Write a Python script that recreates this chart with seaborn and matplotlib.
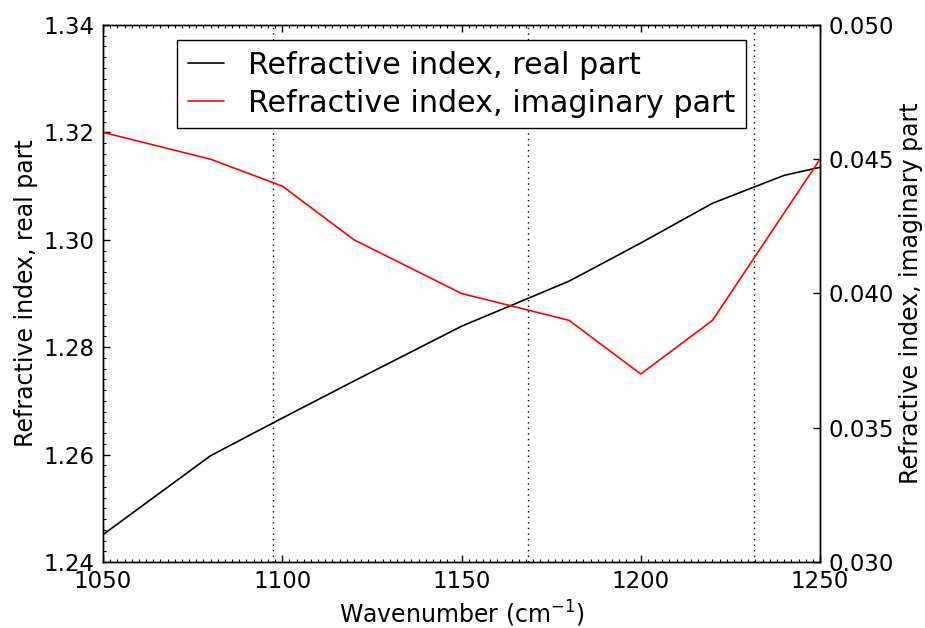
import numpy as np
import matplotlib
matplotlib.use("Agg")
import matplotlib.pyplot as plt
import seaborn as sns
from matplotlib.ticker import MultipleLocator

# data
wavenumber = [1050, 1080, 1100, 1120, 1150, 1180, 1200, 1220, 1240, 1250]
n_real = [1.2451, 1.2598, 1.2668, 1.2737, 1.2839, 1.2923, 1.2994, 1.3068, 1.3120, 1.3135]

wn_imag = [1050, 1080, 1100, 1120, 1150, 1180, 1200, 1220, 1250]
n_imag = [0.0460, 0.0450, 0.0440, 0.0420, 0.0400, 0.0390, 0.0370, 0.0390, 0.0450]

markers = [1097.3, 1168.5, 1231.5]

sns.set_style("ticks")
plt.rcParams['font.family'] = ['DejaVu Sans']
plt.rcParams['mathtext.fontset'] = 'dejavusans'
for key in ['text.color', 'axes.labelcolor', 'xtick.color', 'ytick.color', 'axes.edgecolor']:
    plt.rcParams[key] = 'k'

fig = plt.figure(figsize=(9.25, 6.28), dpi=100)
ax = fig.add_axes([0.1114, 0.1051, 0.7751, 0.8551])
ax2 = ax.twinx()

sns.lineplot(x=wavenumber, y=n_real, ax=ax, color='k', lw=1.2,
             label='Refractive index, real part', legend=False)
sns.lineplot(x=wn_imag, y=n_imag, ax=ax2, color='r', lw=1.2,
             label='Refractive index, imaginary part', legend=False)

for m in markers:
    ax.axvline(m, color='k', lw=1.0, linestyle=(0, (1, 3)))

ax.set_xlim(1050, 1250)
ax.set_ylim(1.24, 1.34)
ax2.set_ylim(0.030, 0.050)

ax.xaxis.set_major_locator(MultipleLocator(50))
ax.xaxis.set_minor_locator(MultipleLocator(2))
ax.yaxis.set_major_locator(MultipleLocator(0.02))
ax.yaxis.set_minor_locator(MultipleLocator(0.002))
ax.yaxis.set_major_formatter(plt.FormatStrFormatter('%.2f'))
ax2.yaxis.set_major_locator(MultipleLocator(0.005))
ax2.yaxis.set_major_formatter(plt.FormatStrFormatter('%.3f'))

ax.tick_params(axis='x', which='both', direction='in', top=True, bottom=True, labelsize=16.5, pad=6)
ax.tick_params(axis='y', which='both', direction='in', left=True, right=False, labelsize=16.5, pad=6)
ax.tick_params(which='major', length=5, width=1)
ax.tick_params(which='minor', length=2.5, width=0.8)
ax2.tick_params(axis='y', which='major', direction='in', length=5, width=1, labelsize=16.5, pad=6)

for a in (ax, ax2):
    for s in a.spines.values():
        s.set_visible(True)
        s.set_linewidth(1.0)
        s.set_color('k')

ax.set_xlabel(r'Wavenumber (cm$^{-1}$)', fontsize=17)
ax.set_ylabel('Refractive index, real part', fontsize=17)
ax2.set_ylabel('Refractive index, imaginary part', fontsize=17)

h1, l1 = ax.get_legend_handles_labels()
h2, l2 = ax2.get_legend_handles_labels()
leg = ax2.legend(h1 + h2, l1 + l2, loc='upper center', fontsize=21.7,
                 handlelength=1.2, handletextpad=0.8, borderpad=0.35,
                 labelspacing=0.3, fancybox=False, framealpha=1)
leg.get_frame().set_edgecolor('k')
leg.get_frame().set_linewidth(1.0)

fig.savefig('out.png', dpi=100)
